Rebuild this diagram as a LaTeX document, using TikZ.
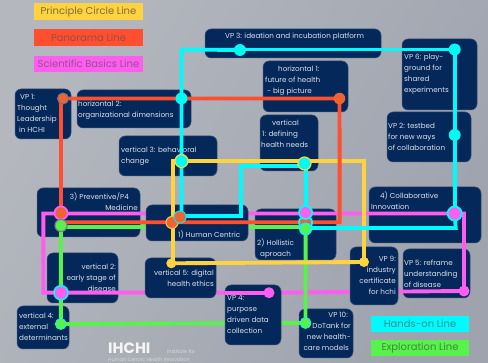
\documentclass[tikz,border=0pt]{standalone}
\usepackage{fontspec}
\setmainfont{Poppins}
\definecolor{navy}{HTML}{04285A}
\definecolor{edgec}{HTML}{3C5278}
\definecolor{txtc}{HTML}{DDE2EA}
\definecolor{lnred}{HTML}{FF4F30}
\definecolor{lnorange}{HTML}{F0622F}
\definecolor{lngreen}{HTML}{58F24C}
\definecolor{lnmag}{HTML}{FF5CF0}
\definecolor{lnyel}{HTML}{FFD23F}
\definecolor{lncyan}{HTML}{00FBFF}
\tikzset{
  x=1pt,y=-1pt,
  vbox/.style={draw=edgec,line width=0.5pt,fill=navy,rounded corners=6pt,inner sep=0pt},
  lbl/.style={inner sep=0pt,text=txtc,font=\fontsize{7.2}{11}\selectfont},
  line/.style={line width=3.9pt,line join=miter},
  st/.style={circle,inner sep=0pt,minimum size=#1},
  st/.default=12pt,
  leg/.style={inner sep=0pt,minimum height=16.5pt,font=\fontsize{10}{12}\selectfont}
}
\newcommand{\vb}[5]{\node[vbox,minimum width=#4-#2,minimum height=#5-#3] (#1) at ({(#2+#4)/2},{(#3+#5)/2}) {};}
% name, x, first line centre y, text
\newcommand{\tl}[4]{\node[lbl,anchor=north west,align=left] (#1) at (#2,#3-3.6) {\vphantom{Ag}#4};}
\newcommand{\tr}[4]{\node[lbl,anchor=north east,align=right] (#1) at (#2,#3-3.6) {\vphantom{Ag}#4};}
\begin{document}
\begin{tikzpicture}
\useasboundingbox (0,0) rectangle (488,363);
\shade[left color={rgb,255:red,180;green,183;blue,190},right color={rgb,255:red,158;green,163;blue,174},shading angle=60] (0,0) rectangle (488,363);

% legend
\node[leg,fill=lnyel,text=black!50!lnyel!70!gray,minimum width=109pt] (lgA) at (88.5,11.5) {Principle Circle Line};
\node[leg,fill=lnred,text=black!35!lnred!65!gray,minimum width=109pt] (lgB) at (88.5,37.5) {Panorama Line};
\node[leg,fill=lnmag,text=black!40!lnmag!60!gray,minimum width=109pt] (lgC) at (88.5,64) {Scientific Basics Line};
\node[leg,fill=lncyan,text=black!40!lncyan!60!gray,minimum width=98pt] (lgD) at (420,324) {Hands-on Line};
\node[leg,fill=lngreen,text=black!45!lngreen!70!gray,minimum width=98pt] (lgE) at (420,348) {Exploration Line};

% footer
\node[inner sep=0pt,text=white!92!gray,font=\fontsize{15}{15}\selectfont\bfseries,anchor=west] (logo) at (108,348) {IHCHI};
\node[inner sep=0pt,text=white!70!gray,font=\fontsize{5}{6}\selectfont,anchor=west] (inst) at (167,352) {Institute for};
\node[inner sep=0pt,text=white!70!gray,font=\fontsize{4.9}{6}\selectfont,anchor=west] (hchi) at (108,359.5) {Human Centric Health Innovation};

% boxes below the lines
\vb{bVPa}{15}{89}{71}{139}
\vb{bHb}{77}{90}{191}{128}
\vb{bVc}{119}{136}{217}{176}
\vb{bVPc}{205}{29}{381}{58}
\vb{bHa}{263}{61}{348}{112}
\vb{bVa}{260}{115}{318}{171}
\vb{bVPf}{402}{39}{477}{110}
\vb{bVPb}{387}{112}{471}{162}
\vb{bP}{37}{188}{140}{237}
\vb{bH}{255}{209}{336}{260}
\vb{bC}{369}{187}{481}{243}
\vb{bVb}{47}{253}{118}{303}
\vb{bVPe}{403}{249}{470}{298}
\vb{bVd}{17}{306}{69}{349}
\vb{bVPj}{299}{309}{353}{358}

\tl{tVPa}{17}{98}{\hspace*{3pt}VP 1:\\Thought\\Leadership\\\hspace*{2pt}in HCHI}
\tl{tHb}{78}{104}{horizontal 2:\\organizational dimensions}
\tl{tVc}{121}{150}{vertical 3: behavioral\\change}
\tl{tVPc}{225}{36}{VP 3: ideation and incubation platform}
\tl{tHa}{265}{69}{\hspace*{13pt}horizontal 1:\\future of health\\\hspace*{2pt}- big picture}
\tl{tVa}{261}{123}{\hspace*{11pt}vertical\\\hspace*{1pt}1: defining\\health needs}
\tl{tVPf}{404}{58}{VP 6: play-\\ground for\\shared\\experiments}
\tl{tVPb}{388}{127}{VP 2: testbed\\for new ways\\of collaboration}
\tr{tP}{138}{196}{3) Preventive/P4\hspace*{9pt}\\Medicine}
\tl{tH}{257}{242}{2) Hollistic\\\hspace*{3pt}aproach}
\tl{tC}{371}{195}{\hspace*{9pt}4) Collaborative\\Innovation}
\tr{tVb}{116}{267}{vertical 2:\\early stage of\\disease}
\tl{tVPe}{404}{263}{VP 5: reframe\\understanding\\of disease}
\tl{tVd}{19}{316}{vertical 4:\\external\\determinants}
\tr{tVPj}{351}{316}{VP 10:\hspace*{3pt}\\DoTank for\\new health-\\care models\hspace*{2pt}}

% stations (defined first, drawn again at the end)
\path
 (63,98.5) node[st] (sVPa) {}
 (339.5,98.5) node[st] (sHa) {}
 (181.5,98.5) node[st] (sHb) {}
 (181.5,161) node[st] (sVc) {}
 (304.5,163.5) node[st] (sVa) {}
 (240,50) node[st] (sVPc) {}
 (454.7,49.5) node[st] (sVPf) {}
 (454.7,135) node[st] (sVPb) {}
 (454.7,213.5) node[st] (sC) {}
 (61,213) node[st] (sPr) {}
 (61,225.5) node[st] (sPg) {}
 (172,222.5) node[st] (sHr) {}
 (180,217) node[st] (sHc) {}
 (305.6,212.5) node[st] (sWm) {}
 (305.6,222.5) node[st] (sWr) {}
 (305.6,229) node[st] (sWg) {}
 (61,292.7) node[st] (sVb) {}
 (60.8,324) node[st] (sVd) {}
 (171.3,263.3) node[st] (sVe) {}
 (364,262) node[st] (sVPi) {}
 (269,292.7) node[st] (sVPd) {}
 (464,291) node[st] (sVPe) {}
 (305.5,323) node[st] (sVPj) {};
\coordinate (mTL) at (43.3,213.5);
\coordinate (mBL) at (43.3,292.7);
\coordinate (mTR) at (464,213.5);
\coordinate (yTL) at (173,161);
\coordinate (yTR) at (364,161);
\coordinate (yBL) at (173,263.3);
\coordinate (cTL) at (181.5,49.5);
\coordinate (cA) at (241,216);
\coordinate (cB) at (241,166);
\coordinate (cC) at (305.6,166);
\coordinate (cD) at (455.7,228);
\coordinate (rTL) at (61,98.5);
\coordinate (rBR) at (339.7,222.3);
\coordinate (rBL) at (61,222.3);

% lines that pass behind some boxes
\draw[line,lnmag] (sVPd.center) -- (mBL) -- (mTL) -- (mTR) |- (sVPe.center) -- (sVPd.center);
\draw[line,lngreen] (sPg.center) -- (sVd.center) -- (sVPj.center) -- (sWg.center);
\draw[line,lngreen] (61,227.3) -- (305.6,227.3);

% boxes above those lines
\vb{bHu}{146}{205}{248}{241}
\vb{bVe}{145}{258}{216}{298}
\vb{bVPi}{350}{247}{398}{305}
\vb{bVPd}{225}{285}{281}{345}
\tl{tHu}{178}{234}{1) Human Centric}
\tr{tVe}{214}{273}{vertical 5: digital\\health ethics}
\tr{tVPi}{396}{260}{VP 9:\\industry\\certificate\\for hchi}
\tl{tVPd}{227}{299}{VP 4:\\purpose\\driven data\\collection}
\draw[line,lnmag] (bVPd.west |- sVPd) -- (sVPd.center);

% lines above all boxes
\draw[line,lnyel] (sVe.center) -- (yBL) -- (yTL) -- (yTR) -- (sVPi.center) -- (sVe.center);
\draw[line,lnred] (sPr.center) -- (rTL) -- (sVPa.center) -- (sHa.center) -- (rBR) -- (rBL);
\draw[line,lncyan] (sVPc.center) -- (cTL) -- (sHc.center -| cTL) -- (sHc.center);
\draw[line,lncyan] (cTL) -- (sVPf.center) -- (sC.center);
\draw[line,lncyan] (sHc.center) -- (180,216) -- (cA) -- (cB) -- (cC) -- (sWg.center);
\draw[line,lncyan] (sWg.center) -- (305.6,228) -- (cD) -- (sC.center);

% stations on top
\node[st=11pt,fill=lnorange,draw=gray!90!blue,line width=1pt] at (sVPa) {};
\node[st=11.5pt,fill=lnorange] at (sHa) {};
\node[st=12pt,fill=lncyan!95!green] at (sHb) {};
\node[st=13pt,fill=lncyan!95!green,draw=lnyel,line width=1.2pt] at (sVc) {};
\node[st=13pt,fill=lncyan!95!green,draw=lnyel,line width=1.2pt] at (sVa) {};
\node[st=12pt,fill=lncyan!95!green] at (sVPc) {};
\node[st=12pt,fill=lncyan!95!green] at (sVPf) {};
\node[st=12pt,fill=lncyan!95!green] at (sVPb) {};
\node[st=14pt,fill=lnmag,draw=lncyan,line width=1.8pt] at (sC) {};
\node[st=13pt,fill=lnorange,draw=lnmag,line width=1.8pt] at (sPr) {};
\node[st=12pt,fill=lngreen,draw=gray,line width=1.2pt] at (sPg) {};
\node[st=12pt,fill=lnorange,draw=lnyel!80!gray,line width=1.2pt] at (sHr) {};
\node[st=12pt,fill=lnorange,draw=lncyan!70!gray,line width=1.2pt] at (sHc) {};
\node[st=13pt,fill=lnorange,draw=lncyan,line width=1.8pt] at (sWr) {};
\node[st=13pt,fill=lnmag,draw=lncyan,line width=1.8pt] at (sWm) {};
\node[st=11.5pt,fill=lngreen,draw=lncyan,line width=1.5pt] at (sWg) {};
\node[st=14pt,fill=lnmag,draw=lncyan,line width=1.6pt] at (sVb) {};
\node[st=11pt,fill=lngreen,draw=lncyan!80!lngreen,line width=0.8pt] at (sVd) {};
\node[st=10pt,fill=lnyel] at (sVe) {};
\node[st=10pt,fill=lnyel] at (sVPi) {};
\node[st=11pt,fill=lnmag] at (sVPd) {};
\node[st=11pt,fill=lnmag] at (sVPe) {};
\node[st=11pt,fill=lngreen,draw=lncyan!80!lngreen,line width=0.8pt] at (sVPj) {};
\end{tikzpicture}
\end{document}
